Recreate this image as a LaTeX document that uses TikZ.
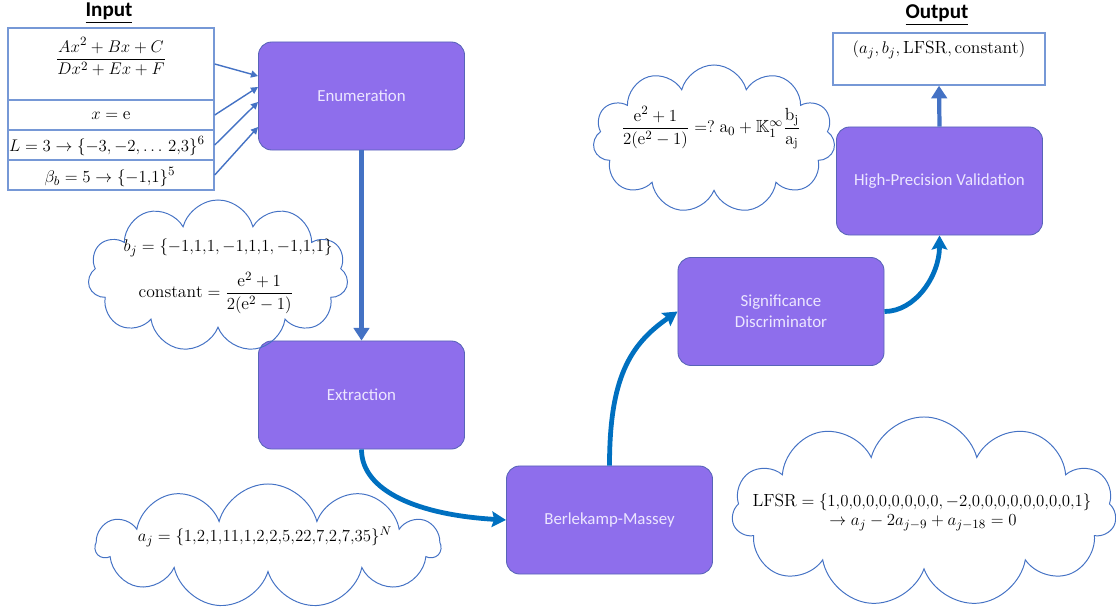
\documentclass[tikz,border=0pt]{standalone}
\usepackage{amsmath,amssymb}
\usepackage{fontspec}
\setsansfont{Carlito}
\usepackage{tikz}
\usetikzlibrary{arrows.meta,shapes.symbols}

\definecolor{stagefill}{RGB}{142,110,236}
\definecolor{stageline}{RGB}{88,100,184}
\definecolor{stagetext}{RGB}{236,230,255}
\definecolor{linecol}{RGB}{68,114,196}
\definecolor{curvecol}{RGB}{0,112,192}
\definecolor{cellcol}{RGB}{118,152,214}
\newcommand{\mathsz}{\fontsize{12.5}{15}\selectfont}

\tikzset{
  stagebox/.style={draw=stageline, fill=stagefill, line width=0.6pt, rounded corners=0.33cm,
    minimum width=5.15cm, minimum height=2.7cm, text=stagetext, align=center,
    font=\sffamily\fontsize{12}{15}\selectfont},
  cellbox/.style={draw=cellcol, line width=1pt, minimum width=5.15cm, inner sep=0pt},
  puff/.style={cloud, cloud puffs=11, cloud ignores aspect, draw=linecol, line width=0.7pt, inner sep=0pt},
  mathtxt/.style={font=\mathsz, inner sep=0pt},
  headtxt/.style={font=\sffamily\bfseries\fontsize{15}{18}\selectfont},
  feed/.style={draw=linecol, line width=1pt, -{Triangle[length=5pt,width=5pt]}},
  pipe/.style={draw=linecol, line width=3pt, -{Triangle[length=9pt,width=11pt]}},
  curvearrow/.style={draw=curvecol, line width=3.4pt, -{Stealth[length=10pt,width=11pt,inset=1.5pt]}}
}

\begin{document}
\begin{tikzpicture}[x=0.025cm, y=-0.025cm]
    \useasboundingbox (0, 0) rectangle (1116, 612);

    % titres
    \node[headtxt] (intitle) at (109, 13) {\underline{Input}};
    \node[headtxt] (outtitle) at (937, 15) {\underline{Output}};

    % entrees
    \node[cellbox, minimum height=1.8cm] (c1) at (111, 64) {};
    \node[cellbox, minimum height=0.75cm] (c2) at (111, 115) {};
    \node[cellbox, minimum height=0.75cm] (c3) at (111, 145) {};
    \node[cellbox, minimum height=0.75cm] (c4) at (111, 175) {};

    \node[mathtxt] (frac) at (111, 57) {$\dfrac{Ax^2+Bx+C}{Dx^2+Ex+F}$};
    \node[mathtxt] (xe) at (111, 116) {$x=\mathrm{e}$};
    \node[mathtxt] (ll) at (107, 146) {$L=3\rightarrow\{-3,-2,\ldots\,2{,}3\}^6$};
    \node[mathtxt] (bb) at (110, 177) {$\beta_b=5\rightarrow\{-1{,}1\}^5$};

    % etapes
    \node[stagebox] (enum) at (361.5, 96) {Enumeration};
    \node[stagebox] (extr) at (361.5, 395) {Extraction};
    \node[stagebox] (bm) at (609.5, 520) {Berlekamp-Massey};
    \node[stagebox] (sig) at (781, 311.5) {Significance\\Discriminator};
    \node[stagebox] (hpv) at (939.5, 181) {High-Precision Validation};

    % sortie
    \node[cellbox, minimum width=5.3cm, minimum height=1.3cm] (out) at (939, 59) {};
    \node[mathtxt] (outtxt) at (939, 50) {$(a_j, b_j, \mathrm{LFSR}, \mathrm{constant})$};

    % nuages
    \node[puff, minimum width=6.5cm, minimum height=3.8cm] (cl1) at (218, 276) {};
    \node[mathtxt] (bj) at (228, 248) {$b_j=\{-1{,}1{,}1,-1{,}1{,}1,-1{,}1{,}1\}$};
    \node[mathtxt] (cst) at (216, 293) {$\mathrm{constant}=\dfrac{\mathrm{e}^2+1}{2(\mathrm{e}^2-1)}$};

    \node[puff, minimum width=6.05cm, minimum height=3.7cm] (cl2) at (714, 139) {};
    \node[mathtxt] (cf) at (711, 128) {$\dfrac{\mathrm{e}^2+1}{2(\mathrm{e}^2-1)}\mathrel{=?}\mathrm{a}_0+\mathbb{K}_1^\infty\dfrac{\mathrm{b_j}}{\mathrm{a_j}}$};

    \node[puff, minimum width=8.6cm, minimum height=3.1cm] (cl3) at (268, 546) {};
    \node[mathtxt] (aj) at (265, 537) {$a_j=\{1{,}2{,}1{,}11{,}1{,}2{,}2{,}5{,}22{,}7{,}2{,}7{,}35\}^N$};

    \node[puff, minimum width=9.6cm, minimum height=4.75cm] (cl4) at (924, 512) {};
    \node[mathtxt] (lfsr) at (922, 502) {$\mathrm{LFSR}=\{1{,}0{,}0{,}0{,}0{,}0{,}0{,}0{,}0,-2{,}0{,}0{,}0{,}0{,}0{,}0{,}0{,}0{,}1\}$};
    \node[mathtxt] (rec) at (923, 523) {$\rightarrow a_j-2a_{j-9}+a_{j-18}=0$};

    % fleches
    \draw[feed] (c1.east) -- ([yshift=0.5cm]enum.west);
    \draw[feed] (c2.east) -- ([yshift=0.225cm]enum.west);
    \draw[feed] (c3.east) -- ([yshift=-0.15cm]enum.west);
    \draw[feed] (c4.east) -- ([yshift=-0.775cm]enum.west);

    \draw[pipe] (enum.south) -- (extr.north);
    \draw[curvearrow] (extr.south) .. controls +(0, 42) and +(-87, -5) .. (bm.west);
    \draw[curvearrow] (bm.north) .. controls +(0, -87) and +(-48, 33) .. (sig.west);
    \draw[curvearrow] (sig.east) .. controls +(31, 0) and +(0, 40) .. (hpv.south);
    \draw[pipe] (hpv.north) -- (out.south);

\end{tikzpicture}
\end{document}
